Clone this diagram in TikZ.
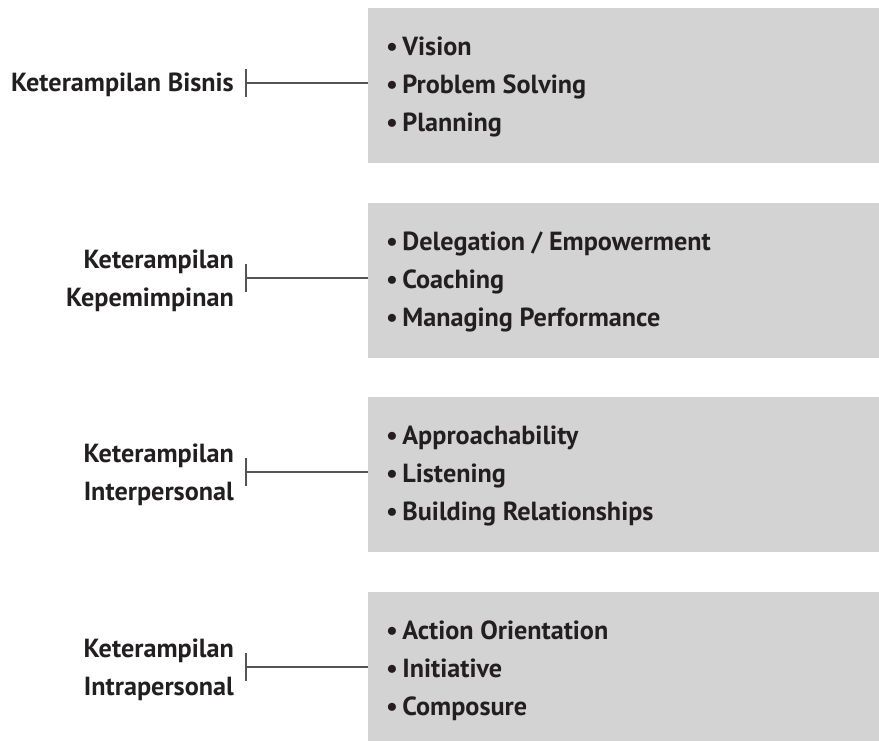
\documentclass[tikz,border=0pt]{standalone}
\usepackage{fontspec}
\setmainfont{PT Sans}
\usetikzlibrary{positioning}

\definecolor{boxgray}{HTML}{D3D3D3}
\definecolor{ink}{HTML}{231F20}
\definecolor{linegray}{HTML}{555555}

\newcommand{\itm}[1]{\textbullet\,#1}

\begin{document}
\begin{tikzpicture}[x = 1pt, y = -1pt,
                    skillbox/.style = {fill = boxgray, minimum width = 520pt, minimum height = 155pt,
                                       anchor = north west, inner sep = 0pt},
                    items/.style = {align = left, anchor = west, inner sep = 0pt, text = ink,
                                    font = \bfseries\fontsize{26.2}{38}\selectfont},
                    skill/.style = {align = right, anchor = east, inner sep = 0pt, text = ink,
                                    font = \bfseries\fontsize{26.2}{38.5}\selectfont},
                    link/.style = {draw = linegray, line width = 2pt}]
      \clip (0, 0) rectangle (879, 740);

      % grey boxes on the right
      \node [skillbox] (b1) at (368, 8){};
      \node [skillbox] (b2) at (368, 202.5){};
      \node [skillbox] (b3) at (368, 397){};
      \node [skillbox] (b4) at (368, 591.5){};

      % ticks where the connectors start
      \coordinate (t1) at (246, 83);
      \coordinate (t2) at (246, 278);
      \coordinate (t3) at (246, 472);
      \coordinate (t4) at (246, 667);

      \node [skill] (s1) at (234, 85){Keterampilan Bisnis};
      \node [skill] (s2) at (234, 281){Keterampilan\\Kepemimpinan};
      \node [skill] (s3) at (234, 475){Keterampilan\\Interpersonal};
      \node [skill] (s4) at (234, 670){Keterampilan\\Intrapersonal};

      \node [items] (i1) at (386, 87){\itm{Vision}\\\itm{Problem Solving}\\\itm{Planning}};
      \node [items] (i2) at (386, 282){\itm{Delegation / Empowerment}\\\itm{Coaching}\\\itm{Managing Performance}};
      \node [items] (i3) at (386, 476){\itm{Approachability}\\\itm{Listening}\\\itm{Building Relationships}};
      \node [items] (i4) at (386, 671){\itm{Action Orientation}\\\itm{Initiative}\\\itm{Composure}};

      \draw [link] ([yshift = 14pt]t1) -- ([yshift = -14pt]t1);
      \draw [link] ([yshift = 14pt]t2) -- ([yshift = -14pt]t2);
      \draw [link] ([yshift = 14pt]t3) -- ([yshift = -14pt]t3);
      \draw [link] ([yshift = 14pt]t4) -- ([yshift = -14pt]t4);
      \draw [link] (t1) -- (t1 -| b1.west);
      \draw [link] (t2) -- (t2 -| b2.west);
      \draw [link] (t3) -- (t3 -| b3.west);
      \draw [link] (t4) -- (t4 -| b4.west);
    \end{tikzpicture}
\end{document}
